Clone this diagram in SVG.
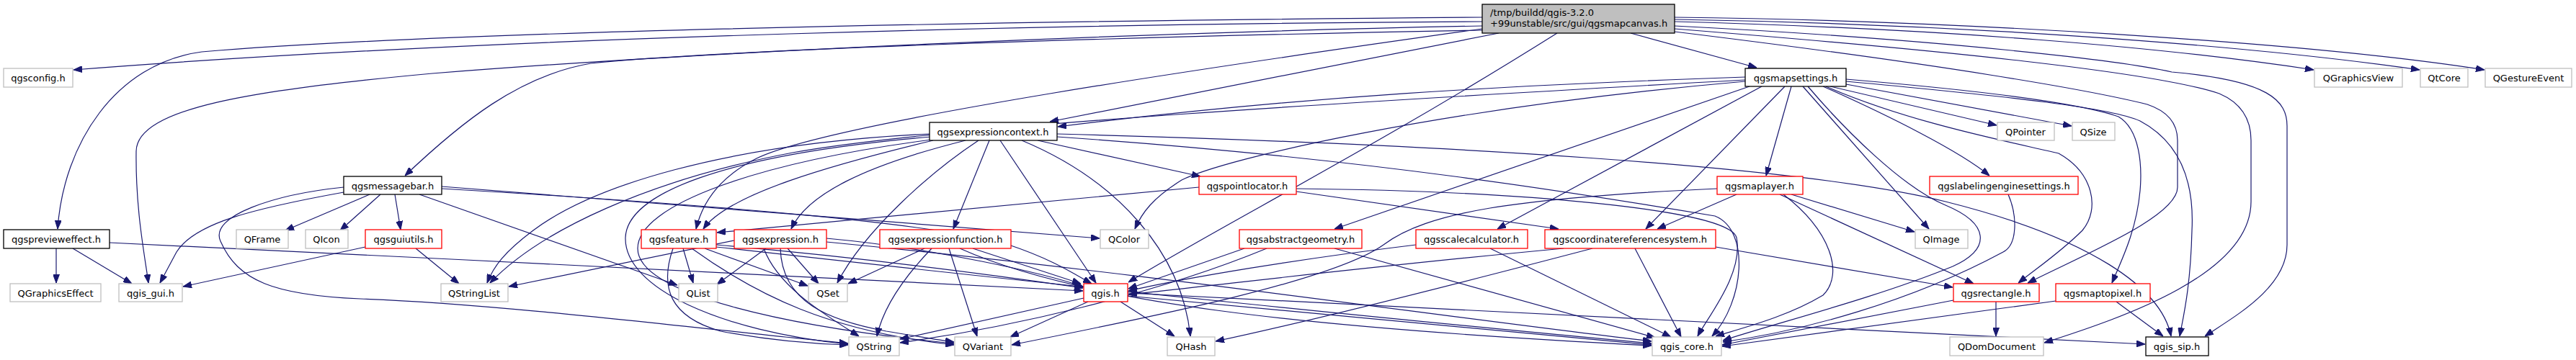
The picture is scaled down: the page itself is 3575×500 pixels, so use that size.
<svg xmlns="http://www.w3.org/2000/svg" width="3575" height="500" viewBox="0 0 3575 500">
<style>
.n rect{fill:#fff;stroke-width:1.3}
.b rect{stroke:#000}
.g rect{stroke:#bfbfbf}
.r rect{stroke:#ff0000}
.m rect{fill:#bfbfbf;stroke:#000}
text{font-family:"DejaVu Sans","Liberation Sans",sans-serif;font-size:13px;fill:#000;text-anchor:middle}
.e path{fill:none;stroke:#191970;stroke-width:1.2;marker-end:url(#a)}
</style>
<defs>
<marker id="a" viewBox="0 0 12 9" refX="12" refY="4.5" markerWidth="12" markerHeight="9" markerUnits="userSpaceOnUse" orient="auto"><path d="M0,0 L12,4.5 L0,9 z" fill="#191970" stroke="#191970" stroke-width="1"/></marker>
</defs>
<rect width="3575" height="500" fill="#fff"/>
<g class="e" id="edges">
<path d="M2057,30 C1500,33 700,50 102,97"/>
<path d="M2057,24 C1300,30 600,45 280,72 C160,88 88,200 80,318"/>
<path d="M2057,36 C1600,45 1000,70 600,102 C350,125 190,150 189,210 C188,290 200,350 206,393"/>
<path d="M2057,42 C1500,52 1000,70 820,88 C720,105 640,170 562,244"/>
<path d="M2080,46 L1457,169"/>
<path d="M2057,40 C1700,90 1150,170 1050,220 C1000,245 975,280 966,318"/>
<path d="M2161,46 C1900,210 1700,310 1566,392"/>
<path d="M2263,46 L2438,94"/>
<path d="M2324,30 C2700,40 3000,65 3211,97"/>
<path d="M2324,27 C2700,33 3100,60 3358,97"/>
<path d="M2324,24 C2700,28 3200,58 3448,97"/>
<path d="M2324,36 C2700,55 2950,85 3014,100 C3150,112 3174,140 3174,175 L3174,340 C3174,400 3100,440 3060,467"/>
<path d="M2324,40 C2700,70 2990,100 3080,130 C3115,145 3124,170 3124,195 L3124,280 C3124,380 2950,440 2837,476"/>
<path d="M2324,44 C2700,90 2900,125 2980,145 C3010,155 3022,172 3022,195 L3022,260 C3022,300 2900,350 2814,393"/>
<path d="M2422,107 C2100,118 1800,134 1468,176"/>
<path d="M2422,111 C1900,140 1300,175 1100,212 C900,250 750,320 680,393"/>
<path d="M2422,113 C2000,150 1700,220 1640,250 C1600,275 1585,295 1575,318"/>
<path d="M2428,120 L1852,318"/>
<path d="M2445,120 L2078,318"/>
<path d="M2477,120 L2284,318"/>
<path d="M2486,120 L2451,244"/>
<path d="M2502,120 L2677,318"/>
<path d="M2530,120 C2620,160 2720,210 2761,244"/>
<path d="M2540,120 L2771,174"/>
<path d="M2562,117 L2875,175"/>
<path d="M2534,120 C2650,170 2780,195 2857,213 C2905,240 2915,290 2890,320 C2860,350 2830,370 2801,393"/>
<path d="M2509,120 C2560,180 2640,260 2700,285 C2760,310 2765,345 2710,370 C2600,415 2460,450 2391,473"/>
<path d="M2562,110 C2800,130 2900,148 2940,162 C2970,180 2973,230 2970,265 C2965,320 2945,360 2931,393"/>
<path d="M2562,113 C2800,135 2930,150 2970,168 C3030,200 3045,260 3042,320 C3040,400 3030,440 3025,467"/>
<path d="M1290,186 C1000,200 820,260 740,320 C700,350 685,370 676,393"/>
<path d="M1295,195 C1150,230 1010,270 976,318"/>
<path d="M1340,195 C1200,230 1120,270 1098,318"/>
<path d="M1373,195 L1323,318"/>
<path d="M1358,195 C1290,240 1200,320 1162,393"/>
<path d="M1292,190 C1000,215 870,270 868,330 C866,400 1000,460 1177,478"/>
<path d="M1300,193 C1050,225 885,285 885,345 C885,410 1100,455 1324,477"/>
<path d="M1388,195 L1521,393"/>
<path d="M1418,195 C1550,250 1640,350 1652,467"/>
<path d="M1440,195 L1666,245"/>
<path d="M1467,190 C1900,220 2200,270 2380,300 C2430,320 2420,420 2376,467"/>
<path d="M1467,186 C2000,200 2500,230 2700,280 C2900,330 3000,400 3013,467"/>
<path d="M513,270 L396,320"/>
<path d="M528,270 L472,320"/>
<path d="M548,270 L556,319"/>
<path d="M477,267 C350,290 270,310 245,350 L222,393"/>
<path d="M477,260 C380,270 290,300 306,335 C330,390 380,410 500,415 C700,422 1000,460 1177,477"/>
<path d="M582,270 L940,396"/>
<path d="M613,259 L1526,331"/>
<path d="M613,262 C1000,285 1300,310 1400,340 C1460,360 1490,380 1515,394"/>
<path d="M507,343 L254,398"/>
<path d="M577,345 L637,394"/>
<path d="M78,345 L78,393"/>
<path d="M101,345 L183,394"/>
<path d="M152,337 C600,360 1200,385 1503,404"/>
<path d="M948,345 L962,393"/>
<path d="M978,345 L1121,397"/>
<path d="M934,345 C915,400 930,440 1000,460 C1080,475 1140,478 1177,479"/>
<path d="M960,345 C1050,410 1150,460 1324,479"/>
<path d="M994,340 C1200,358 1400,385 1503,400"/>
<path d="M994,343 C1500,400 2000,450 2292,477"/>
<path d="M1019,334 L706,398"/>
<path d="M1063,345 L995,395"/>
<path d="M1093,345 L1136,394"/>
<path d="M1083,345 C1085,420 1150,445 1230,460 C1280,468 1300,472 1324,475"/>
<path d="M1060,345 C1080,400 1150,440 1192,467"/>
<path d="M1147,331 C1300,345 1450,380 1503,398"/>
<path d="M1147,336 C1600,380 2000,440 2292,474"/>
<path d="M1283,345 L1177,394"/>
<path d="M1293,345 C1250,390 1225,430 1217,467"/>
<path d="M1317,345 L1356,467"/>
<path d="M1350,345 L1500,394"/>
<path d="M1332,345 C1500,420 1800,455 2292,480"/>
<path d="M1504,414 L1249,471"/>
<path d="M1510,419 L1402,468"/>
<path d="M1555,419 L1630,467"/>
<path d="M1565,411 L2292,479"/>
<path d="M1565,407 L2977,478"/>
<path d="M1664,260 L995,323"/>
<path d="M1799,266 L2163,318"/>
<path d="M1799,262 C2100,265 2400,290 2410,330 C2420,380 2370,440 2356,467"/>
<path d="M1727,345 L1566,401"/>
<path d="M1758,345 C1600,410 1400,455 1249,476"/>
<path d="M1852,345 L2297,469"/>
<path d="M1965,340 C1800,360 1650,385 1566,404"/>
<path d="M2068,345 L2319,468"/>
<path d="M2170,345 C1900,370 1700,395 1566,409"/>
<path d="M2210,345 C2000,400 1800,450 1687,474"/>
<path d="M2269,345 L2333,468"/>
<path d="M2381,343 L2710,399"/>
<path d="M2475,270 C2540,320 2560,380 2530,410 C2480,440 2420,455 2381,467"/>
<path d="M2486,270 L2657,322"/>
<path d="M2470,270 L2739,394"/>
<path d="M2410,270 L2300,318"/>
<path d="M2383,262 C2100,275 1980,295 1920,340 C1850,390 1600,440 1404,479"/>
<path d="M2787,270 C2800,300 2800,340 2780,350 C2650,420 2500,460 2391,475"/>
<path d="M2770,419 L2770,467"/>
<path d="M2711,417 L2390,479"/>
<path d="M2853,418 L2390,481"/>
<path d="M2937,419 L3002,467"/>
</g>
<g id="main" class="n m"><rect x="2057" y="6" width="267" height="40"/><text x="2068" y="22" style="text-anchor:start">/tmp/buildd/qgis-3.2.0</text><text x="2068" y="37" style="text-anchor:start">+99unstable/src/gui/qgsmapcanvas.h</text></g>
<g id="qgsconfig" class="n g"><rect x="5" y="95" width="96" height="26"/><text x="53" y="113">qgsconfig.h</text></g>
<g id="qgsmapsettings" class="n b"><rect x="2422" y="95" width="140" height="25"/><text x="2492" y="113">qgsmapsettings.h</text></g>
<g id="QGraphicsView" class="n g"><rect x="3212" y="95" width="122" height="26"/><text x="3273" y="113">QGraphicsView</text></g>
<g id="QtCore" class="n g"><rect x="3359" y="95" width="66" height="26"/><text x="3392" y="113">QtCore</text></g>
<g id="QGestureEvent" class="n g"><rect x="3449" y="95" width="120" height="26"/><text x="3509" y="113">QGestureEvent</text></g>
<g id="qgsexpressioncontext" class="n b"><rect x="1290" y="170" width="177" height="25"/><text x="1378" y="188">qgsexpressioncontext.h</text></g>
<g id="QPointer" class="n g"><rect x="2772" y="170" width="79" height="25"/><text x="2811" y="188">QPointer</text></g>
<g id="QSize" class="n g"><rect x="2876" y="170" width="59" height="25"/><text x="2905" y="188">QSize</text></g>
<g id="qgsmessagebar" class="n b"><rect x="477" y="245" width="136" height="25"/><text x="545" y="263">qgsmessagebar.h</text></g>
<g id="qgspointlocator" class="n r"><rect x="1664" y="245" width="135" height="25"/><text x="1731" y="263">qgspointlocator.h</text></g>
<g id="qgsmaplayer" class="n r"><rect x="2383" y="245" width="119" height="25"/><text x="2442" y="263">qgsmaplayer.h</text></g>
<g id="qgslabelingenginesettings" class="n r"><rect x="2678" y="245" width="206" height="25"/><text x="2781" y="263">qgslabelingenginesettings.h</text></g>
<g id="qgsprevieweffect" class="n b"><rect x="5" y="319" width="147" height="26"/><text x="78" y="337">qgsprevieweffect.h</text></g>
<g id="QFrame" class="n g"><rect x="328" y="319" width="72" height="26"/><text x="364" y="337">QFrame</text></g>
<g id="QIcon" class="n g"><rect x="424" y="319" width="59" height="26"/><text x="453" y="337">QIcon</text></g>
<g id="qgsguiutils" class="n r"><rect x="507" y="319" width="106" height="26"/><text x="560" y="337">qgsguiutils.h</text></g>
<g id="qgsfeature" class="n r"><rect x="890" y="319" width="104" height="26"/><text x="942" y="337">qgsfeature.h</text></g>
<g id="qgsexpression" class="n r"><rect x="1019" y="319" width="128" height="26"/><text x="1083" y="337">qgsexpression.h</text></g>
<g id="qgsexpressionfunction" class="n r"><rect x="1221" y="319" width="182" height="26"/><text x="1312" y="337">qgsexpressionfunction.h</text></g>
<g id="QColor" class="n g"><rect x="1527" y="319" width="67" height="26"/><text x="1560" y="337">QColor</text></g>
<g id="qgsabstractgeometry" class="n r"><rect x="1720" y="319" width="170" height="26"/><text x="1805" y="337">qgsabstractgeometry.h</text></g>
<g id="qgsscalecalculator" class="n r"><rect x="1965" y="319" width="155" height="26"/><text x="2042" y="337">qgsscalecalculator.h</text></g>
<g id="qgscoordinatereferencesystem" class="n r"><rect x="2144" y="319" width="237" height="26"/><text x="2262" y="337">qgscoordinatereferencesystem.h</text></g>
<g id="QImage" class="n g"><rect x="2658" y="319" width="73" height="26"/><text x="2694" y="337">QImage</text></g>
<g id="QGraphicsEffect" class="n g"><rect x="14" y="394" width="126" height="25"/><text x="77" y="412">QGraphicsEffect</text></g>
<g id="qgis_gui" class="n g"><rect x="165" y="394" width="88" height="25"/><text x="209" y="412">qgis_gui.h</text></g>
<g id="QStringList" class="n g"><rect x="612" y="394" width="93" height="25"/><text x="658" y="412">QStringList</text></g>
<g id="QList" class="n g"><rect x="942" y="394" width="54" height="25"/><text x="969" y="412">QList</text></g>
<g id="QSet" class="n g"><rect x="1122" y="394" width="54" height="25"/><text x="1149" y="412">QSet</text></g>
<g id="qgis" class="n r"><rect x="1504" y="394" width="61" height="25"/><text x="1534" y="412">qgis.h</text></g>
<g id="qgsrectangle" class="n r"><rect x="2711" y="394" width="119" height="25"/><text x="2770" y="412">qgsrectangle.h</text></g>
<g id="qgsmaptopixel" class="n r"><rect x="2853" y="394" width="131" height="25"/><text x="2918" y="412">qgsmaptopixel.h</text></g>
<g id="QString" class="n g"><rect x="1178" y="468" width="70" height="26"/><text x="1213" y="486">QString</text></g>
<g id="QVariant" class="n g"><rect x="1325" y="468" width="78" height="26"/><text x="1364" y="486">QVariant</text></g>
<g id="QHash" class="n g"><rect x="1620" y="468" width="66" height="26"/><text x="1653" y="486">QHash</text></g>
<g id="qgis_core" class="n g"><rect x="2293" y="468" width="96" height="26"/><text x="2341" y="486">qgis_core.h</text></g>
<g id="QDomDocument" class="n g"><rect x="2706" y="468" width="130" height="26"/><text x="2771" y="486">QDomDocument</text></g>
<g id="qgis_sip" class="n b"><rect x="2978" y="468" width="87" height="26"/><text x="3021" y="486">qgis_sip.h</text></g>
</svg>
